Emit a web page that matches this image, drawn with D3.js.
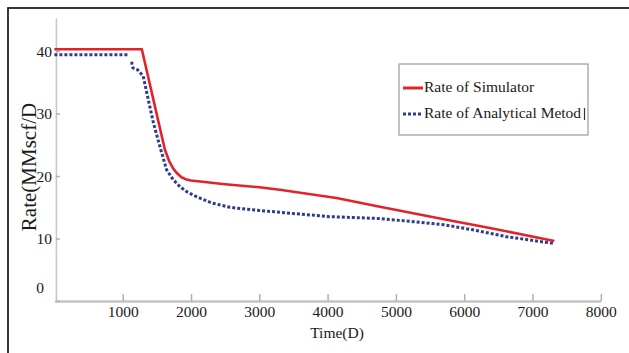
<!DOCTYPE html>
<html>
<head>
<meta charset="utf-8">
<script src="https://cdn.jsdelivr.net/npm/d3@7"></script>
<style>
  html, body { margin: 0; padding: 0; background: #fff; }
  svg { display: block; }
  text { font-family: "Liberation Serif", "Times New Roman", serif; fill: #1a1a1a; }
</style>
</head>
<body>
<svg id="chart" width="629" height="353"></svg>
<script>
// ---- data ----
const simTime = [0, 1280, 1450, 1618, 1680, 1740, 1800, 1860, 1920, 2000, 2500, 3000, 3300, 4130, 4765, 5740, 6375, 7320];
const simRate = [40.3, 40.3, 32.2, 24.2, 22.4, 21.2, 20.4, 19.8, 19.5, 19.3, 18.7, 18.2, 17.8, 16.5, 15.1, 13.0, 11.7, 9.6];

const anaTime1 = [0, 1080];
const anaRate1 = [39.4, 39.4];
const anaTime2 = [1130, 1150, 1220, 1300, 1375, 1450, 1545, 1643, 1740, 1838, 1950, 2082, 2300, 2570, 2800, 3000, 3400, 4030, 4765, 5250, 5700, 6125, 6620, 7320];
const anaRate2 = [38.3, 37.3, 37.0, 36.0, 32.2, 28.5, 24.7, 21.0, 19.4, 18.3, 17.4, 16.7, 15.7, 15.0, 14.7, 14.5, 14.1, 13.5, 13.2, 12.7, 12.2, 11.4, 10.3, 9.2];

const xTicks = [1000, 2000, 3000, 4000, 5000, 6000, 7000, 8000];
const yTicks = [0, 10, 20, 30, 40];
const seriesNames = ["Rate of Simulator", "Rate of Analytical Metod"];
const xTitle = "Time(D)";
const yTitle = "Rate(MMscf/D";

// ---- drawing ----
const svg = d3.select("#chart");

// outer frame (only top/left visible in the reference)
svg.append("rect")
  .attr("x", 8).attr("y", 8).attr("width", 640).attr("height", 360)
  .attr("fill", "none").attr("stroke", "#222").attr("stroke-width", 1.8);

const x = d3.scaleLinear().domain([0, 8000]).range([54.4, 600.8]);
const y = d3.scaleLinear().domain([0, 45.3]).range([301, 18]);

// x axis
const gx = svg.append("g").attr("transform", `translate(0,${y(0)})`)
  .call(d3.axisBottom(x).tickValues(xTicks).tickFormat(d3.format("d"))
    .tickSizeInner(-7).tickSizeOuter(0).tickPadding(4.5));
gx.select(".domain").attr("stroke", "#c4c4c4").attr("stroke-width", 2.5);
gx.selectAll(".tick line").attr("stroke", "#b0b0b0").attr("stroke-width", 1.5);
gx.selectAll(".tick text").style("font-size", "15.5px").attr("fill", "#1a1a1a")
  .style("font-family", '"Liberation Serif", "Times New Roman", serif');

// y axis
const gy = svg.append("g").attr("transform", `translate(${x(0) + 1.5},0)`)
  .call(d3.axisLeft(y).tickValues(yTicks)
    .tickSizeInner(-4).tickSizeOuter(0).tickPadding(4));
gy.select(".domain").attr("stroke", "#c8c8c8").attr("stroke-width", 1.6);
gy.selectAll(".tick line").attr("stroke", "#b0b0b0").attr("stroke-width", 1.5);
gy.selectAll(".tick text").style("font-size", "15.5px").attr("fill", "#1a1a1a")
  .style("font-family", '"Liberation Serif", "Times New Roman", serif');
gy.selectAll(".tick").filter(d => d === 0).select("text")
  .attr("transform", "translate(-8,-13)");

// titles
svg.append("text")
  .attr("transform", "translate(36,167) rotate(-90)")
  .attr("text-anchor", "middle")
  .style("font-size", "21px")
  .text(yTitle);

svg.append("text")
  .attr("x", 337).attr("y", 338)
  .attr("text-anchor", "middle")
  .style("font-size", "15.5px")
  .text(xTitle);

// lines
const line = d3.line().x(d => x(d[0])).y(d => y(d[1]));
const simData = simTime.map((t, i) => [t, simRate[i]]);
const ana1 = anaTime1.map((t, i) => [t, anaRate1[i]]);
const ana2 = anaTime2.map((t, i) => [t, anaRate2[i]]);

const simColor = "#e0242b";
const anaColor = "#2f3b8c";

svg.append("path").datum(simData)
  .attr("d", line).attr("fill", "none")
  .attr("stroke", simColor).attr("stroke-width", 2.6)
  .attr("stroke-linejoin", "round");

[ana1, ana2].forEach(seg => {
  svg.append("path").datum(seg)
    .attr("d", line).attr("fill", "none")
    .attr("stroke", anaColor).attr("stroke-width", 3)
    .attr("stroke-dasharray", "3,2");
});

// legend
const lg = svg.append("g");
lg.append("rect")
  .attr("x", 399).attr("y", 64).attr("width", 189).attr("height", 71)
  .attr("fill", "#fff").attr("stroke", "#9a9a9a").attr("stroke-width", 1.2);

const legendItems = [
  { name: seriesNames[0], color: simColor, dash: null, w: 3 },
  { name: seriesNames[1], color: anaColor, dash: "3,2", w: 3 }
];
legendItems.forEach((it, i) => {
  const cy = 88 + i * 26;
  lg.append("line")
    .attr("x1", 403).attr("x2", 423).attr("y1", cy).attr("y2", cy)
    .attr("stroke", it.color).attr("stroke-width", it.w)
    .attr("stroke-dasharray", it.dash);
  lg.append("text")
    .attr("x", 424).attr("y", cy + 4)
    .style("font-size", "15.5px")
    .text(it.name);
});
// small vertical mark after the second legend entry
lg.append("line")
  .attr("x1", 584.5).attr("x2", 584.5).attr("y1", 108).attr("y2", 120)
  .attr("stroke", "#333").attr("stroke-width", 1.2);
</script>
</body>
</html>
